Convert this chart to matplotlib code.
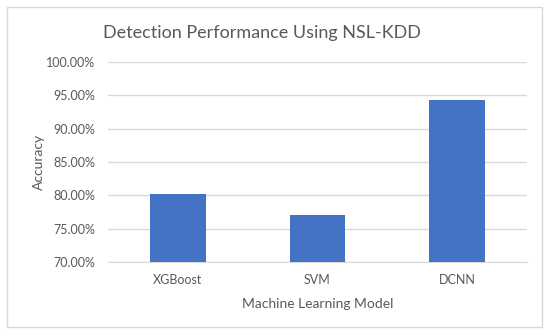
import matplotlib
matplotlib.use("Agg")
import matplotlib.pyplot as plt
from matplotlib.patches import Rectangle
from matplotlib.ticker import FuncFormatter

models = ["XGBoost", "SVM", "DCNN"]
accuracy = [80.2, 77.0, 94.3]
y_ticks = [70, 75, 80, 85, 90, 95, 100]

plt.rcParams['font.family'] = ['Lato', 'DejaVu Sans']

W, H = 550, 336
fig = plt.figure(figsize=(W / 100, H / 100), dpi=100)
fig.patch.set_facecolor("white")

# chart border
fig.patches.append(Rectangle((7 / W, 1 - 327 / H), (542 - 7) / W, (327 - 7) / H,
                             transform=fig.transFigure, fill=False,
                             edgecolor="#d9d9d9", linewidth=1.0))

ax = fig.add_axes([108 / W, 1 - 262 / H, (527 - 108) / W, (262 - 62) / H])
x = range(len(models))
ax.bar(x, accuracy, width=0.4, color="#4472c4", zorder=3)
ax.set_xlim(-0.5, 2.5)
ax.set_ylim(70, 100)
ax.set_yticks(y_ticks)
ax.yaxis.set_major_formatter(FuncFormatter(lambda v, p: f"{v:.2f}%"))
ax.set_xticks(list(x))
ax.set_xticklabels(models)
ax.grid(axis="y", color="#d9d9d9", linewidth=1.0, zorder=0)
for s in ["top", "right", "left"]:
    ax.spines[s].set_visible(False)
ax.spines["bottom"].set_color("#d9d9d9")
ax.tick_params(axis="both", length=0, labelsize=9, labelcolor="#595959")
ax.tick_params(axis="y", pad=9)
ax.tick_params(axis="x", pad=9)

ax.set_ylabel("Accuracy", fontsize=10, color="#595959", labelpad=1)
ax.set_xlabel("Machine Learning Model", fontsize=10, color="#595959", labelpad=8)
fig.text(262 / W, 1 - 33 / H, "Detection Performance Using NSL-KDD",
         ha="center", va="center", fontsize=13, color="#595959")

fig.savefig("out.png", dpi=100)
